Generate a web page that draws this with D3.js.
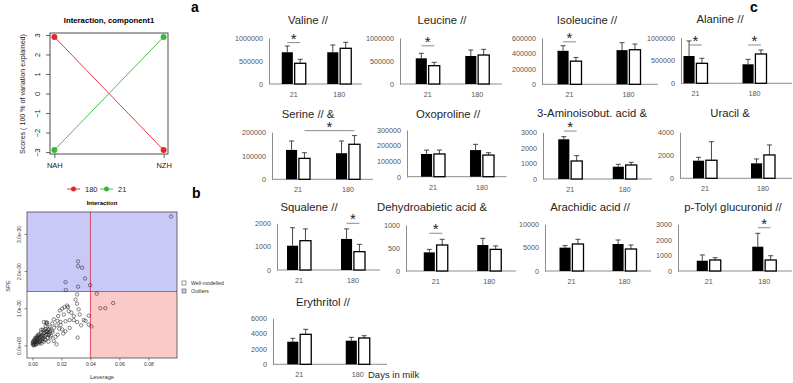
<!DOCTYPE html>
<html>
<head>
<meta charset="utf-8">
<script src="https://cdn.jsdelivr.net/npm/d3@7"></script>
<style>
  body { margin: 0; background: #fff; }
  text { font-family: "Liberation Sans", Arial, sans-serif; }
</style>
</head>
<body>
<div id="chart"></div>
<script>
// ---------- Panel a: interaction scores, component 1 ----------
const groupsA = ["NAH", "NZH"];
const scores180 = [2.9, -2.9];
const scores21 = [-2.9, 2.9];
const scoreTicks = [-3, -2, -1, 0, 1, 2, 3];

// ---------- Panel b: leverage vs SPE (SPE in units of 1e-30) ----------
const leverageLimit = 0.04;
const speLimit = 1.45;
const leverage = [
  0.0957, 0.0315, 0.0315, 0.0343, 0.0363, 0.0228, 0.0398, 0.0315, 0.0230,
  0.0444, 0.0557, 0.0469, 0.0503, 0.0407,
  0.0308, 0.0308, 0.0297, 0.0239, 0.0221, 0.0205, 0.0189, 0.0250, 0.0319, 0.0326,
  0.0285, 0.0216, 0.0177, 0.0147, 0.0228, 0.0257, 0.0285, 0.0193, 0.0388, 0.0354,
  0.0366, 0.0388, 0.0308, 0.0336, 0.0166, 0.0136, 0.0101, 0.0078, 0.0090, 0.0119,
  0.0147, 0.0205, 0.0228, 0.0257, 0.0212, 0.0174, 0.0159, 0.0312, 0.0147, 0.0166,
  0.0124, 0.0095, 0.0098, 0.0115, 0.0135, 0.0185, 0.0195, 0.0172, 0.0268, 0.0245,
  0.0138, 0.0112, 0.0105, 0.0082,
  0.0005, 0.0010, 0.0015, 0.0020, 0.0008, 0.0012, 0.0025, 0.0030, 0.0035, 0.0040,
  0.0045, 0.0050, 0.0055, 0.0060, 0.0065, 0.0070, 0.0075, 0.0080, 0.0085, 0.0090,
  0.0095, 0.0100, 0.0105, 0.0110, 0.0115, 0.0003, 0.0007, 0.0018, 0.0022, 0.0028,
  0.0032, 0.0038, 0.0042, 0.0048, 0.0052, 0.0058, 0.0062, 0.0068, 0.0072, 0.0078,
  0.0088, 0.0001, 0.0004, 0.0013, 0.0017, 0.0024, 0.0027, 0.0033, 0.0036, 0.0044,
  0.0054, 0.0063, 0.0074, 0.0083, 0.0093, 0.0102, 0.0108, 0.0122, 0.0128, 0.0060
];
const spe = [
  3.47, 2.26, 2.13, 2.09, 1.80, 1.70, 1.62, 1.58, 1.49,
  1.39, 1.14, 1.00, 1.00, 0.51,
  1.37, 1.12, 1.23, 1.07, 1.03, 0.99, 0.94, 0.92, 0.97, 0.83,
  0.79, 0.83, 0.79, 0.70, 0.65, 0.68, 0.68, 0.63, 0.80, 0.68,
  0.66, 0.56, 0.63, 0.54, 0.54, 0.59, 0.61, 0.63, 0.52, 0.50,
  0.47, 0.43, 0.38, 0.47, 0.32, 0.29, 0.23, 0.21, 0.12, 0.03,
  0.21, 0.62, 0.58, 0.45, 0.40, 0.45, 0.55, 0.66, 0.88, 1.03,
  0.35, 0.28, 0.36, 0.40,
  0.02, 0.05, 0.08, 0.03, 0.12, 0.15, 0.10, 0.06, 0.14, 0.18,
  0.09, 0.22, 0.16, 0.26, 0.12, 0.30, 0.20, 0.34, 0.25, 0.15,
  0.28, 0.38, 0.20, 0.10, 0.32, 0.08, 0.00, 0.20, 0.18, 0.24,
  0.20, 0.28, 0.05, 0.30, 0.12, 0.35, 0.05, 0.18, 0.42, 0.10,
  0.44, 0.04, 0.10, 0.01, 0.12, 0.02, 0.16, 0.09, 0.22, 0.26,
  0.08, 0.22, 0.26, 0.16, 0.36, 0.30, 0.42, 0.38, 0.26, 0.42
];
const speTicks = [0, 1, 2, 3];
const speTickLabels = ["0.0e+00", "1.0e-30", "2.0e-30", "3.0e-30"];
const leverageTicks = [0, 0.02, 0.04, 0.06, 0.08];

// ---------- Panel c: metabolites by days in milk ----------
const days = ["21", "180"];
const metabolites = [
  "Valine //", "Leucine //", "Isoleucine //", "Alanine //",
  "Serine // &", "Oxoproline  //", "3-Aminoisobut. acid &", "Uracil &",
  "Squalene //", "Dehydroabietic acid &", "Arachidic acid //", "p-Tolyl glucuronid //",
  "Erythritol //"
];
// [day 21, day 180]
const blackMeans = [
  [690000, 690000], [558000, 609000], [434000, 443000], [599000, 417000],
  [125000, 111000], [146000, 171000], [2550, 790], [1530, 1300],
  [1040, 1330], [405, 565], [5000, 5780], [660, 1560],
  [2950, 3080]
];
const blackErr = [
  [136000, 158000], [109000, 130000], [66000, 96000], [330000, 109000],
  [38000, 52000], [25000, 37000], [170, 155], [296, 380],
  [770, 430], [65, 145], [430, 860], [370, 860],
  [440, 440]
];
const whiteMeans = [
  [450000, 776000], [398000, 630000], [300000, 448000], [438000, 643000],
  [89000, 149000], [146000, 139000], [1157, 900], [1570, 2030],
  [1255, 785], [565, 470], [5780, 4710], [707, 707],
  [3910, 3430]
];
const whiteErr = [
  [87000, 130000], [73000, 124000], [48000, 74000], [110000, 87000],
  [24000, 37000], [25000, 15000], [343, 170], [1610, 870],
  [505, 315], [125, 75], [1010, 860], [148, 273],
  [650, 300]
];
const yMax = [1000000, 1000000, 600000, 1000000, 200000, 300000, 3000, 4000, 2000, 1000, 10000, 3000, 6000];
const yStep = [500000, 500000, 200000, 500000, 100000, 100000, 1000, 2000, 1000, 500, 5000, 1000, 2000];
// significance brackets: panel index, comparison, bracket level (data units)
const sigPanel = [0, 1, 2, 3, 3, 4, 6, 8, 9, 11];
const sigKind = ["21", "21", "21", "21", "180", "white", "21", "180", "21", "180"];
const sigLevel = [900000, 830000, 550000, 840000, 840000, 207000, 3080, 2000, 820, 2780];

// ---------- layout ----------
const width = 793, height = 383;
const svg = d3.select("#chart").append("svg")
  .attr("width", width).attr("height", height)
  .style("background", "#fff");

// ===== Panel a =====
const boxA = { left: 50, right: 168, top: 33, bottom: 154 };
const xA = d3.scaleLinear().domain([0.96, 2.04]).range([boxA.left, boxA.right]);
const yA = d3.scaleLinear().domain([-3.1, 3.1]).range([boxA.bottom, boxA.top]);
const red = "#e3262f", green = "#37b83b";

svg.append("text").attr("x", 109).attr("y", 23).attr("text-anchor", "middle")
  .style("font-size", "7.8px").style("font-weight", "bold").text("Interaction, component1");

svg.append("rect").attr("x", boxA.left).attr("y", boxA.top)
  .attr("width", boxA.right - boxA.left).attr("height", boxA.bottom - boxA.top)
  .attr("fill", "none").attr("stroke", "#222").attr("stroke-width", 0.8);

const axA = svg.append("g").attr("transform", `translate(${boxA.left},0)`)
  .call(d3.axisLeft(yA).tickValues(scoreTicks).tickSize(4).tickFormat(d3.format("d")));
axA.select(".domain").remove();
axA.selectAll("line").attr("stroke", "#222").attr("stroke-width", 0.7);
axA.selectAll("text")
  .attr("transform", "rotate(-90)").attr("x", 0).attr("y", -10.5).attr("dy", null)
  .attr("text-anchor", "middle").style("font-size", "7.5px").style("fill", "#222");

const axAx = svg.append("g").attr("transform", `translate(0,${boxA.bottom})`)
  .call(d3.axisBottom(xA).tickValues([1, 2]).tickSize(4).tickPadding(5).tickFormat((d) => groupsA[d - 1]));
axAx.select(".domain").remove();
axAx.selectAll("line").attr("stroke", "#222").attr("stroke-width", 0.7);
axAx.selectAll("text").style("font-size", "7.5px").style("fill", "#222");

svg.append("text").attr("transform", "translate(24.5,94) rotate(-90)")
  .attr("text-anchor", "middle").style("font-size", "7.1px").style("fill", "#222")
  .text("Scores ( 100 % of variation explained)");

const seriesA = [{ vals: scores180, color: red }, { vals: scores21, color: green }];
const lineA = d3.line().x((d, i) => xA(i + 1)).y((d) => yA(d));
seriesA.forEach((s) => {
  svg.append("path").attr("d", lineA(s.vals)).attr("fill", "none")
    .attr("stroke", s.color).attr("stroke-width", 0.9);
  svg.selectAll(null).data(s.vals).enter().append("circle")
    .attr("cx", (d, i) => xA(i + 1)).attr("cy", (d) => yA(d)).attr("r", 3)
    .attr("fill", s.color);
});

// legend a
const legA = [{ label: "180", color: red, x: 67 }, { label: "21", color: green, x: 100 }];
legA.forEach((l) => {
  svg.append("line").attr("x1", l.x).attr("x2", l.x + 13).attr("y1", 189).attr("y2", 189)
    .attr("stroke", l.color).attr("stroke-width", 0.9);
  svg.append("circle").attr("cx", l.x + 6.5).attr("cy", 189).attr("r", 2.5).attr("fill", l.color);
  svg.append("text").attr("x", l.x + 18).attr("y", 191.7).style("font-size", "7.5px")
    .style("fill", "#222").text(l.label);
});

// ===== Panel b =====
const boxB = { left: 27, right: 177, top: 212, bottom: 358 };
const xB = d3.scaleLinear().domain([-0.0038, 0.0998]).range([boxB.left, boxB.right]);
const yB = d3.scaleLinear().domain([-0.34, 3.59]).range([boxB.bottom, boxB.top]);

svg.append("text").attr("x", 102).attr("y", 205).attr("text-anchor", "middle")
  .style("font-size", "6px").style("font-weight", "bold").text("Interaction");

svg.append("rect").attr("x", boxB.left).attr("y", boxB.top)
  .attr("width", boxB.right - boxB.left).attr("height", yB(speLimit) - boxB.top)
  .attr("fill", "#c9c9f7");
svg.append("rect").attr("x", xB(leverageLimit)).attr("y", yB(speLimit))
  .attr("width", boxB.right - xB(leverageLimit)).attr("height", boxB.bottom - yB(speLimit))
  .attr("fill", "#fcc9c9");
svg.append("line").attr("x1", boxB.left).attr("x2", boxB.right)
  .attr("y1", yB(speLimit)).attr("y2", yB(speLimit)).attr("stroke", "#e23b5a").attr("stroke-width", 0.9);
svg.append("line").attr("x1", xB(leverageLimit)).attr("x2", xB(leverageLimit))
  .attr("y1", boxB.top).attr("y2", boxB.bottom).attr("stroke", "#e23b5a").attr("stroke-width", 0.9);

svg.append("g").selectAll("circle").data(leverage).enter().append("circle")
  .attr("cx", (d) => xB(d)).attr("cy", (d, i) => yB(spe[i])).attr("r", 1.7)
  .attr("fill", "none").attr("stroke", "#222").attr("stroke-width", 0.55);

svg.append("rect").attr("x", boxB.left).attr("y", boxB.top)
  .attr("width", boxB.right - boxB.left).attr("height", boxB.bottom - boxB.top)
  .attr("fill", "none").attr("stroke", "#333").attr("stroke-width", 0.7);

const axB = svg.append("g").attr("transform", `translate(${boxB.left},0)`)
  .call(d3.axisLeft(yB).tickValues(speTicks).tickSize(2.5).tickFormat((d, i) => speTickLabels[i]));
axB.select(".domain").remove();
axB.selectAll("line").attr("stroke", "#333").attr("stroke-width", 0.6);
axB.selectAll("text")
  .attr("transform", "rotate(-90)").attr("x", 0).attr("y", -6.5).attr("dy", null)
  .attr("text-anchor", "middle").style("font-size", "5px").style("fill", "#333");

const axBx = svg.append("g").attr("transform", `translate(0,${boxB.bottom})`)
  .call(d3.axisBottom(xB).tickValues(leverageTicks).tickSize(2.5).tickPadding(2).tickFormat(d3.format(".2f")));
axBx.select(".domain").remove();
axBx.selectAll("line").attr("stroke", "#333").attr("stroke-width", 0.6);
axBx.selectAll("text").style("font-size", "5px").style("fill", "#333");

svg.append("text").attr("x", 102).attr("y", 379).attr("text-anchor", "middle")
  .style("font-size", "5.8px").style("fill", "#333").text("Leverage");
svg.append("text").attr("transform", "translate(10,286) rotate(-90)").attr("text-anchor", "middle")
  .style("font-size", "5.8px").style("fill", "#333").text("SPE");

// legend b
const legB = [{ label: "Well-modelled", fill: "#fff", y: 283 }, { label: "Outliers", fill: "#c9c9f7", y: 291 }];
legB.forEach((l) => {
  svg.append("rect").attr("x", 182).attr("y", l.y - 2).attr("width", 4).attr("height", 4)
    .attr("fill", l.fill).attr("stroke", "#555").attr("stroke-width", 0.6);
  svg.append("text").attr("x", 191).attr("y", l.y + 1.8).style("font-size", "5.2px")
    .style("fill", "#333").text(l.label);
});

// ===== Panel c =====
// axis x, band range, axis end, y of top tick and zero, title position
const barLayout = [
  { ax: 269, bx0: 271, bx1: 362, yTop: 38, yBot: 84, tx: 308, ty: 24 },
  { ax: 400, bx0: 403, bx1: 502, yTop: 38, yBot: 84, tx: 442, ty: 24 },
  { ax: 542, bx0: 540, bx1: 658, yTop: 38, yBot: 84.3, tx: 587, ty: 24 },
  { ax: 681, bx0: 666, bx1: 784, end: 792, yTop: 37.7, yBot: 83.3, tx: 720, ty: 23 },
  { ax: 272, bx0: 273, bx1: 373, yTop: 132.3, yBot: 179.3, tx: 308, ty: 117.5 },
  { ax: 407, bx0: 408.5, bx1: 506.5, yTop: 130, yBot: 176.7, tx: 448, ty: 117.5 },
  { ax: 543, bx0: 543, bx1: 652, yTop: 132.3, yBot: 179, tx: 592, ty: 117 },
  { ax: 680, bx0: 676, bx1: 792, yTop: 132.3, yBot: 178.3, tx: 730, ty: 117 },
  { ax: 277, bx0: 272, bx1: 380, yTop: 223.3, yBot: 270, tx: 309, ty: 210.5 },
  { ax: 406, bx0: 409, bx1: 516, yTop: 225, yBot: 271, tx: 432, ty: 210.5 },
  { ax: 545, bx0: 545, bx1: 651, yTop: 224.3, yBot: 271, tx: 590, ty: 210.5 },
  { ax: 678, bx0: 681, bx1: 792, yTop: 224.3, yBot: 271, tx: 733, ty: 210.5 },
  { ax: 273, bx0: 270, bx1: 387, yTop: 318.3, yBot: 364.3, tx: 323, ty: 305.5 }
];

const xSub = d3.scaleBand().domain(["black", "white"]).range([-12, 12]).paddingInner(0.14);
const panelScales = [];

metabolites.forEach((name, i) => {
  const L = barLayout[i];
  const g = svg.append("g").attr("class", "bar-panel");
  const x = d3.scaleBand().domain(days).range([L.bx0, L.bx1]);
  const y = d3.scaleLinear().domain([0, yMax[i]]).range([L.yBot, L.yTop]);
  panelScales.push({ x, y });

  // title
  g.append("text").attr("x", L.tx).attr("y", L.ty).attr("text-anchor", "middle")
    .style("font-size", "11.3px").style("fill", "#262626").text(name);

  // y axis
  const yAxis = g.append("g").attr("transform", `translate(${L.ax},0)`)
    .call(d3.axisLeft(y).tickValues(d3.range(0, yMax[i] + yStep[i] / 2, yStep[i]))
      .tickSize(0).tickPadding(6).tickFormat(d3.format("d")));
  yAxis.select(".domain").attr("stroke", "#8c8c8c");
  yAxis.selectAll("text").style("font-size", "7.2px").style("fill", "#555");

  // x axis
  g.append("line").attr("x1", L.ax).attr("x2", L.end || L.bx1)
    .attr("y1", L.yBot).attr("y2", L.yBot).attr("stroke", "#8c8c8c");
  g.selectAll(".day-label").data(days).enter().append("text")
    .attr("class", "day-label")
    .attr("x", (d) => x(d) + x.bandwidth() / 2).attr("y", L.yBot + 13)
    .attr("text-anchor", "middle").style("font-size", "7.2px").style("fill", "#555")
    .text((d) => d);

  const bars = days.flatMap((d, j) => [
    { grp: "black", day: d, v: blackMeans[i][j], e: blackErr[i][j] },
    { grp: "white", day: d, v: whiteMeans[i][j], e: whiteErr[i][j] }
  ]);
  const cx = (d) => x(d.day) + x.bandwidth() / 2 + xSub(d.grp) + xSub.bandwidth() / 2;

  // error bars
  g.selectAll(".err").data(bars).enter().append("path")
    .attr("class", "err")
    .attr("d", (d) => `M${cx(d)},${y(d.v)}V${y(d.v + d.e)}M${cx(d) - 2.5},${y(d.v + d.e)}H${cx(d) + 2.5}`)
    .attr("fill", "none").attr("stroke", "#333").attr("stroke-width", 0.9);

  // bars
  g.selectAll(".bar").data(bars).enter().append("rect")
    .attr("class", "bar")
    .attr("x", (d) => x(d.day) + x.bandwidth() / 2 + xSub(d.grp))
    .attr("y", (d) => y(d.v))
    .attr("width", xSub.bandwidth())
    .attr("height", (d) => L.yBot - y(d.v))
    .attr("fill", (d) => (d.grp === "black" ? "#000" : "#fff"))
    .attr("stroke", "#000").attr("stroke-width", (d) => (d.grp === "black" ? 0 : 1.3));
});

// significance brackets
sigPanel.forEach((p, k) => {
  const { x, y } = panelScales[p];
  const c = (day, grp) => x(day) + x.bandwidth() / 2 + xSub(grp) + xSub.bandwidth() / 2;
  let x1, x2;
  if (sigKind[k] === "white") { x1 = c("21", "white"); x2 = c("180", "white"); }
  else { x1 = c(sigKind[k], "black"); x2 = c(sigKind[k], "white"); }
  const yy = y(sigLevel[k]);
  svg.append("line").attr("x1", x1).attr("x2", x2).attr("y1", yy).attr("y2", yy)
    .attr("stroke", "#7f7f7f").attr("stroke-width", 0.9);
  svg.append("text").attr("x", (x1 + x2) / 2).attr("y", yy + 1).attr("text-anchor", "middle")
    .style("font-size", "15px").style("fill", "#222").text("*");
});

svg.append("text").attr("x", 368).attr("y", 378).style("font-size", "9.5px")
  .style("fill", "#262626").text("Days in milk");

// panel letters
const letters = [{ t: "a", x: 191, y: 12 }, { t: "b", x: 192, y: 198 }, { t: "c", x: 750, y: 12 }];
letters.forEach((l) => {
  svg.append("text").attr("x", l.x).attr("y", l.y).style("font-size", "14px")
    .style("font-weight", "bold").text(l.t);
});
</script>
</body>
</html>
